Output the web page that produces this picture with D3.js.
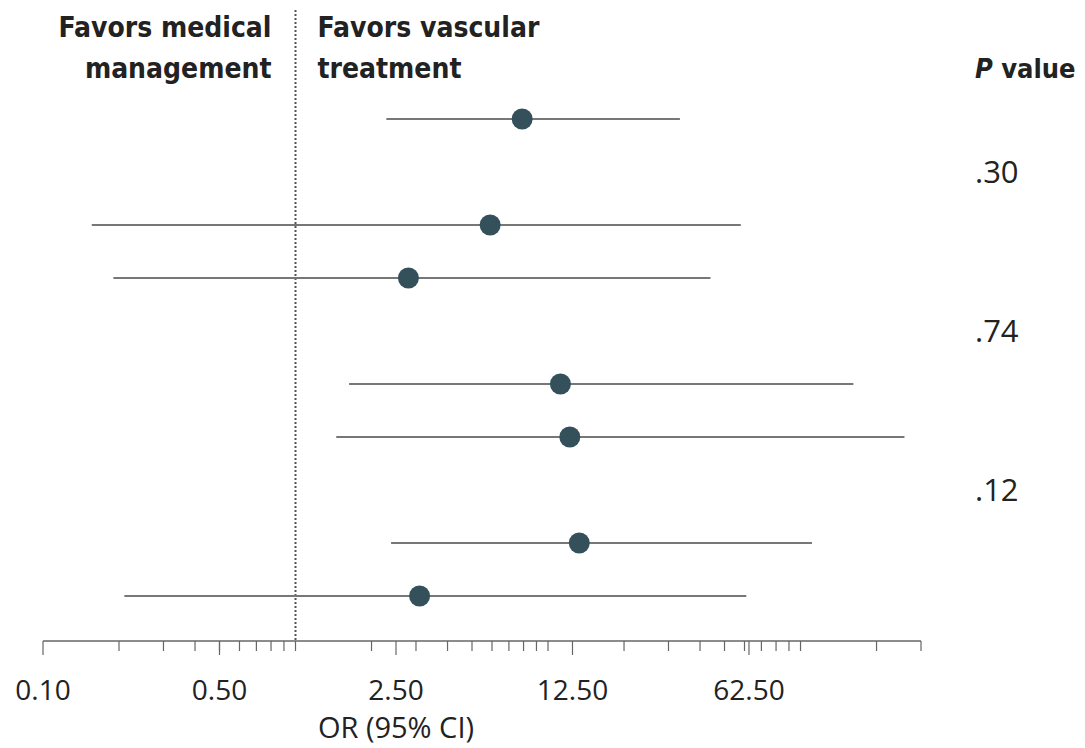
<!DOCTYPE html>
<html>
<head>
<meta charset="utf-8">
<script src="https://cdn.jsdelivr.net/npm/d3@7"></script>
<style>
  body { margin: 0; background: #fff; }
  text { fill: #222; }
  .head { font-family: "Liberation Sans Narrow", "DejaVu Sans Condensed", sans-serif; font-weight: bold; font-size: 28px; }
  .tick-label { font-family: "Open Sans", sans-serif; font-size: 28px; }
</style>
</head>
<body>
<div id="chart"></div>
<script>
// odds ratios and 95% CI (top to bottom)
var rowIndex = [0, 2, 3, 5, 6, 8, 9];
var estimates = [7.9, 5.9, 2.8, 11.2, 12.2, 13.3, 3.1];
var lowers = [2.29, 0.156, 0.19, 1.63, 1.45, 2.39, 0.21];
var uppers = [33.3, 58, 44, 162, 258, 111, 61];

// p values sit between the rows of each pair
var pRows = [1, 4, 7];
var pLabels = [".30", ".74", ".12"];

// labelled axis ticks
var majorTicks = [0.1, 0.5, 2.5, 12.5, 62.5];
var tickLabels = ["0.10", "0.50", "2.50", "12.50", "62.50"];

var width = 1085, height = 748;

var svg = d3.select("#chart").append("svg")
    .attr("width", width)
    .attr("height", height);

// log scale for the odds ratio
var x = d3.scaleLog()
    .domain([0.1, 300])
    .range([43, 921]);

// one row per band, 10 rows in total
var y = d3.scaleLinear()
    .domain([0, 9])
    .range([119, 596]);

var axisY = 641;

// minor ticks: 1..9 in each decade
var minorTicks = x.ticks().filter(function(d) { return d > 0.1; });

// axis line
svg.append("line")
    .attr("x1", x(0.1)).attr("x2", x(300))
    .attr("y1", axisY).attr("y2", axisY)
    .attr("stroke", "#666").attr("stroke-width", 1.5);

svg.selectAll(".minor")
    .data(minorTicks)
    .enter().append("line")
    .attr("class", "minor")
    .attr("x1", function(d) { return x(d); })
    .attr("x2", function(d) { return x(d); })
    .attr("y1", axisY).attr("y2", axisY + 10)
    .attr("stroke", "#666").attr("stroke-width", 1.2);

svg.selectAll(".major")
    .data(majorTicks)
    .enter().append("line")
    .attr("class", "major")
    .attr("x1", function(d) { return x(d); })
    .attr("x2", function(d) { return x(d); })
    .attr("y1", axisY).attr("y2", axisY + 14)
    .attr("stroke", "#666").attr("stroke-width", 1.2);

svg.selectAll(".tick-label")
    .data(majorTicks)
    .enter().append("text")
    .attr("class", "tick-label")
    .attr("x", function(d) { return x(d); })
    .attr("y", 700)
    .attr("text-anchor", "middle")
    .text(function(d, i) { return tickLabels[i]; });

// axis title
svg.append("text")
    .attr("class", "tick-label")
    .attr("x", x(2.5))
    .attr("y", 738)
    .attr("text-anchor", "middle")
    .style("font-size", "29px")
    .text("OR (95% CI)");

// reference line at OR = 1
svg.append("line")
    .attr("x1", x(1)).attr("x2", x(1))
    .attr("y1", 10).attr("y2", axisY)
    .attr("stroke", "#555")
    .attr("stroke-width", 2)
    .attr("stroke-dasharray", "2,2");

// header text either side of the line
var left = svg.append("text")
    .attr("class", "head")
    .attr("text-anchor", "end")
    .attr("x", x(1) - 24);
left.append("tspan").attr("x", x(1) - 24).attr("y", 37).text("Favors medical");
left.append("tspan").attr("x", x(1) - 24).attr("y", 78).text("management");

var right = svg.append("text")
    .attr("class", "head")
    .attr("x", x(1) + 22);
right.append("tspan").attr("x", x(1) + 22).attr("y", 37).text("Favors vascular");
right.append("tspan").attr("x", x(1) + 22).attr("y", 78).text("treatment");

var pHead = svg.append("text")
    .attr("class", "head")
    .attr("x", 975)
    .attr("y", 78)
    .style("font-size", "27px");
pHead.append("tspan").style("font-style", "italic").text("P");
pHead.append("tspan").text(" value");

// confidence interval lines
svg.selectAll(".ci")
    .data(estimates)
    .enter().append("line")
    .attr("class", "ci")
    .attr("x1", function(d, i) { return x(lowers[i]); })
    .attr("x2", function(d, i) { return x(uppers[i]); })
    .attr("y1", function(d, i) { return y(rowIndex[i]); })
    .attr("y2", function(d, i) { return y(rowIndex[i]); })
    .attr("stroke", "#777")
    .attr("stroke-width", 2);

// point estimates
svg.selectAll(".dot")
    .data(estimates)
    .enter().append("circle")
    .attr("class", "dot")
    .attr("cx", function(d) { return x(d); })
    .attr("cy", function(d, i) { return y(rowIndex[i]); })
    .attr("r", 10.5)
    .attr("fill", "#34505a");

// p values
svg.selectAll(".pval")
    .data(pLabels)
    .enter().append("text")
    .attr("class", "tick-label pval")
    .attr("x", 975)
    .attr("y", function(d, i) { return y(pRows[i]) + 11; })
    .style("font-size", "31px")
    .text(function(d) { return d; });
</script>
</body>
</html>
